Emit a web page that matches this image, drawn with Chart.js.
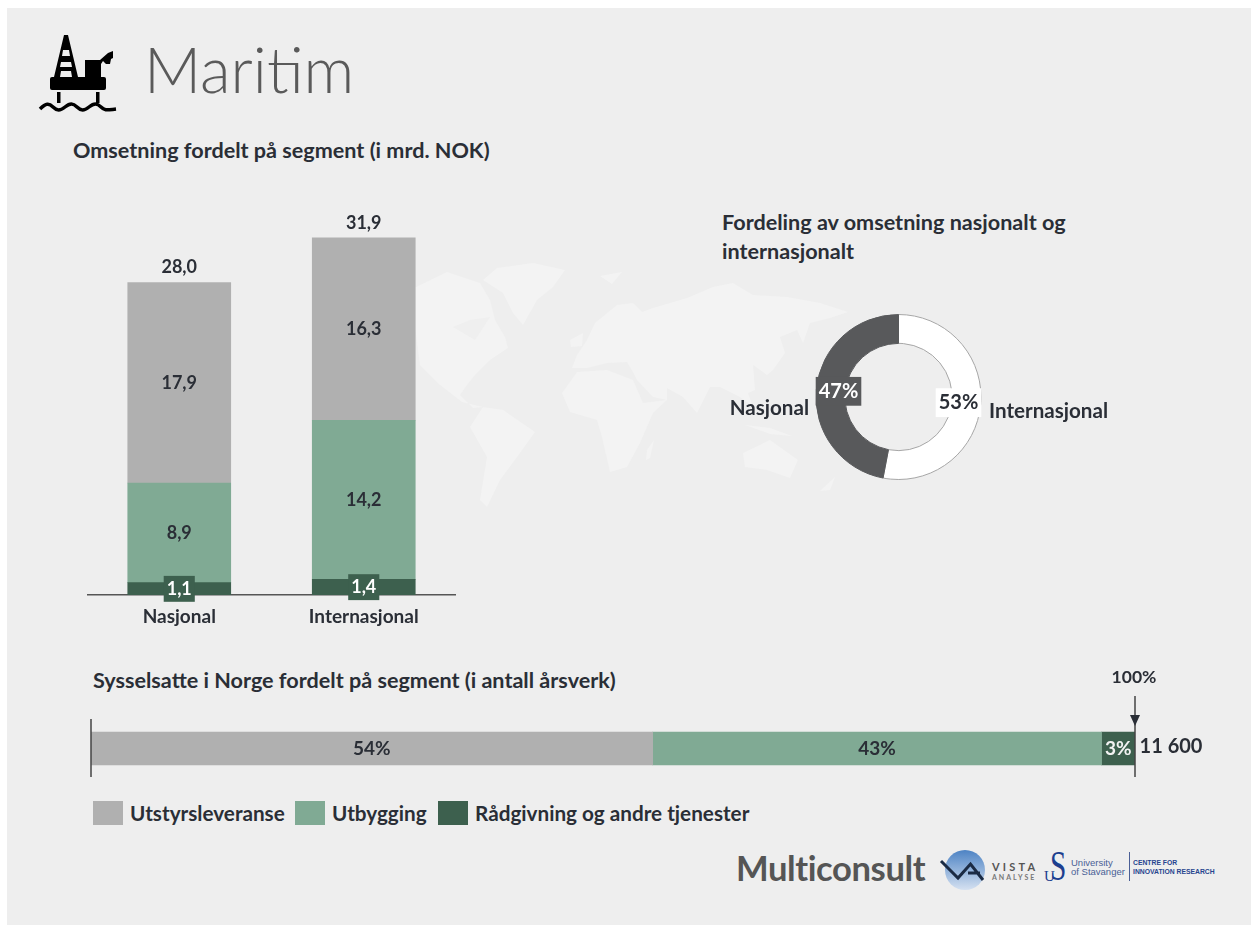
<!DOCTYPE html>
<html lang="no">
<head>
<meta charset="utf-8">
<title>Maritim</title>
<script src="https://cdn.jsdelivr.net/npm/chart.js@4"></script>
<style>
  html, body { margin: 0; padding: 0; background: #fff; }
  body { width: 1251px; height: 927px; position: relative; overflow: hidden; font-family: Lato, sans-serif; color: #2a2e36; }
  #panel { position: absolute; left: 7px; top: 8px; width: 1244px; height: 917px; background: #eeeeee; }
  .abs { position: absolute; white-space: nowrap; }
  .head { font-weight: 700; font-size: 21.6px; line-height: 28px; }
  canvas { position: absolute; }
  #legend { position: absolute; left: 93px; top: 801px; height: 25px; font-weight: 700; font-size: 20.7px; }
  #legend span { position: absolute; top: 0; line-height: 25px; white-space: nowrap; }
  #legend i { position: absolute; top: 0; width: 30px; height: 24px; }
</style>
</head>
<body>
<div id="panel"></div>

<!-- faint world map behind the charts -->
<svg class="abs" style="left:0;top:0" width="1251" height="927" fill="#f3f3f3">
  <polygon points="410,290 447,272 480,283 490,300 495,320 505,337 508,348 490,360 475,375 467,385 460,395 473,408 483,407 462,402 440,385 420,365"/>
  <polygon points="453,327 470,320 490,317 475,340" fill="#efefef"/>
  <polygon points="483,280 497,268 533,263 565,270 553,287 537,300 523,325 513,313 503,293"/>
  <polygon points="470,427 483,407 503,410 535,432 517,457 500,480 487,507 480,500 487,457"/>
  <polygon points="562,393 577,372 607,370 633,380 643,403 667,400 653,413 640,443 627,467 610,472 602,437 597,420 570,412"/>
  <polygon points="572,368 577,355 587,340 595,323 617,305 633,303 642,312 653,308 687,298 713,287 733,283 753,295 787,297 820,303 848,312 830,318 810,323 803,343 797,330 780,337 785,353 773,370 767,375 753,365 755,390 748,393 753,407 740,397 720,387 710,387 697,413 683,397 667,388 667,400 653,397 637,380 633,372 627,362 607,363 587,368"/>
  <polygon points="743,453 770,440 798,460 790,478 767,470 745,467"/>
  <polygon points="647,450 654,440 650,458 646,460"/>
  <polygon points="570,340 583,333 582,346 571,347"/>
  <polygon points="745,425 770,428 792,436 770,434"/>
  <polygon points="820,491 835,477 830,490"/>
  <polygon points="600,276 622,272 612,284"/>
</svg>

<!-- platform icon -->
<svg class="abs" style="left:0;top:0" width="130" height="120">
  <path d="M64 35h4l10 42h-6l-1-6h-10l-1 6h-6zM63 50l-1 6h8l-1-6zM61 62l-1 5h12l-1-5z" fill-rule="evenodd" fill="#000"/>
  <rect x="50" y="77" width="56" height="13" rx="2" fill="#000"/>
  <path d="M85 60h15l8-7 5-2v7l-2 1-1 5h-4l-3-3-2 3v13h-16z" fill="#000"/>
  <rect x="57" y="92" width="3.5" height="11" fill="#000"/>
  <rect x="96" y="92" width="3.5" height="11" fill="#000"/>
  <path d="M40 109c6-6 9-6 13-2s7 4 12 0 8-4 12 0 7 4 12 0 8-4 12 0 6 3 15 2" fill="none" stroke="#000" stroke-width="3.5"/>
</svg>

<div class="abs" style="left:144px;top:32px;font-size:63px;line-height:74px;font-weight:300;color:#5a5a5a">Maritim</div>
<div class="abs head" style="left:73px;top:136px">Omsetning fordelt på segment (i mrd. NOK)</div>
<div class="abs head" style="left:722px;top:208px">Fordeling av omsetning nasjonalt og</div>
<div class="abs head" style="left:722px;top:237px">internasjonalt</div>
<div class="abs head" style="left:93px;top:666px">Sysselsatte i Norge fordelt på segment (i antall årsverk)</div>

<canvas id="barChart" width="369" height="435" style="left:87px;top:195px"></canvas>
<canvas id="doughnutChart" width="440" height="200" style="left:680px;top:297px"></canvas>
<canvas id="stripChart" width="1140" height="130" style="left:80px;top:660px"></canvas>

<div id="legend"></div>

<!-- partner logos -->
<div class="abs" style="left:736px;top:846px;font-size:34.6px;line-height:44px;font-weight:700;color:#555;letter-spacing:-.4px">Multiconsult</div>
<svg class="abs" style="left:930px;top:840px;overflow:visible" width="300" height="56">
  <defs><linearGradient id="vg" x1="0" y1="0" x2="0" y2="1"><stop offset="0" stop-color="#4d83c4"/><stop offset="1" stop-color="#d5e1f1"/></linearGradient></defs>
  <circle cx="35" cy="30" r="20" fill="url(#vg)"/>
  <path d="M11 21l17 17 12.500-14 12.500 16M38 33h12" fill="none" stroke="#1b2b44" stroke-width="3"/>
  <text x="62" y="31" font-family="Lato" font-size="11" font-weight="700" letter-spacing="3.200" fill="#555">VISTA</text>
  <text x="62" y="40" font-family="Lato" font-size="7" font-weight="700" letter-spacing="2" fill="#777">ANALYSE</text>
  <text transform="translate(120,40) scale(.7,1)" font-family="Liberation Serif" font-size="42" fill="#1d3f8f">S</text>
  <text x="114" y="41" font-family="Liberation Serif" font-size="15" fill="#1d3f8f">U</text>
  <text x="141" y="26" font-family="Liberation Sans" font-size="9.500" fill="#4a5f96">University</text>
  <text x="141" y="35" font-family="Liberation Sans" font-size="9.500" fill="#4a5f96">of Stavanger</text>
  <rect x="199" y="12" width="1" height="29" fill="#4a5f96"/>
  <text x="203" y="25" font-family="Liberation Sans" font-size="6.800" font-weight="700" fill="#27458f">CENTRE FOR</text>
  <text x="203" y="34" font-family="Liberation Sans" font-size="6.800" font-weight="700" fill="#27458f">INNOVATION RESEARCH</text>
</svg>

<script>
const categories = ['Nasjonal', 'Internasjonal'];
const segments = ['Utstyrsleveranse', 'Utbygging', 'Rådgivning og andre tjenester'];
const utstyrsleveranse = [17.9, 16.3];
const utbygging = [8.9, 14.2];
const raadgivning = [1.1, 1.4];
const totals = [28.0, 31.9];
const salesShares = [53, 47];
const salesLabels = ['Internasjonal', 'Nasjonal'];
const jobShares = [53.8, 43.0, 3.2];
const jobsTotal = '11 600';
const jobsTopLabel = '100%';

const GREY = '#b0b0b0';
const GREEN = '#80aa94';
const DARK_GREEN = '#3d604e';
const INK = '#2a2e36';
const FONT = 'Lato, sans-serif';

function comma(v) {
  return v.toFixed(1).replace('.', ',');
}

// text with an optional box behind it, used by all three charts
function putText(ctx, text, x, y, color, size, box) {
  ctx.save();
  ctx.font = '700 ' + size + 'px ' + FONT;
  ctx.textAlign = 'center';
  ctx.textBaseline = 'middle';
  if (box) {
    const w = ctx.measureText(text).width + 6;
    ctx.fillStyle = box;
    ctx.fillRect(x - w / 2, y - size * 0.72, w, size * 1.44);
  }
  ctx.fillStyle = color;
  ctx.fillText(text, x, y);
  ctx.restore();
}

const barLabels = {
  id: 'barLabels',
  afterDatasetsDraw(chart) {
    const ctx = chart.ctx;
    chart.data.datasets.forEach((ds, i) => {
      chart.getDatasetMeta(i).data.forEach((bar, j) => {
        const y = (bar.y + bar.base) / 2;
        if (i === 0) {
          putText(ctx, comma(ds.data[j]), bar.x, y, '#ffffff', 18, DARK_GREEN);
        } else {
          putText(ctx, comma(ds.data[j]), bar.x, y, INK, 18);
        }
      });
    });
    chart.getDatasetMeta(2).data.forEach((bar, j) => {
      putText(ctx, comma(totals[j]), bar.x, bar.y - 15, INK, 18);
    });
  }
};

new Chart(document.getElementById('barChart'), {
  type: 'bar',
  plugins: [barLabels],
  data: {
    labels: categories,
    datasets: [
      { label: segments[2], data: raadgivning, backgroundColor: DARK_GREEN },
      { label: segments[1], data: utbygging, backgroundColor: GREEN },
      { label: segments[0], data: utstyrsleveranse, backgroundColor: GREY }
    ]
  },
  options: {
    responsive: false,
    animation: false,
    barThickness: 103,
    layout: { padding: { top: 8 } },
    plugins: { legend: { display: false }, tooltip: { enabled: false } },
    scales: {
      x: {
        stacked: true,
        afterFit(scale) { scale.height = 35; },
        grid: { display: false },
        border: { color: '#555555', width: 1.5 },
        ticks: { color: INK, font: { family: FONT, size: 19, weight: '700' }, padding: 2 }
      },
      y: { stacked: true, display: false, min: 0, max: 35 }
    }
  }
});

const doughnutLabels = {
  id: 'doughnutLabels',
  afterDatasetsDraw(chart) {
    const ctx = chart.ctx;
    chart.getDatasetMeta(0).data.forEach((arc, i) => {
      const mid = (arc.startAngle + arc.endAngle) / 2;
      const r = arc.innerRadius + (arc.outerRadius - arc.innerRadius) * 0.23;
      const x = arc.x + Math.cos(mid) * r;
      const y = arc.y + Math.sin(mid) * r;
      const dark = i === 1;
      putText(ctx, salesShares[i] + '%', x, y, dark ? '#ffffff' : INK, 20, dark ? '#58595b' : '#ffffff');
    });
    const c = chart.getDatasetMeta(0).data[0];
    ctx.save();
    ctx.font = '700 20.6px ' + FONT;
    ctx.fillStyle = INK;
    ctx.textBaseline = 'middle';
    ctx.textAlign = 'left';
    ctx.fillText(salesLabels[0], c.x + c.outerRadius + 8, c.y + 14);
    ctx.textAlign = 'right';
    ctx.fillText(salesLabels[1], c.x - c.outerRadius - 7, c.y + 11);
    ctx.restore();
  }
};

new Chart(document.getElementById('doughnutChart'), {
  type: 'doughnut',
  plugins: [doughnutLabels],
  data: {
    labels: salesLabels,
    datasets: [{
      data: salesShares,
      backgroundColor: ['#ffffff', '#58595b'],
      borderColor: ['#a6a6a6', '#58595b'],
      borderWidth: 1
    }]
  },
  options: {
    responsive: false,
    animation: false,
    cutout: '65%',
    layout: { padding: { top: 17, bottom: 17, right: 3 } },
    plugins: { legend: { display: false }, tooltip: { enabled: false } }
  }
});

const stripMarks = {
  id: 'stripMarks',
  afterDatasetsDraw(chart) {
    const ctx = chart.ctx;
    const xs = chart.scales.x;
    chart.data.datasets.forEach((ds, i) => {
      chart.getDatasetMeta(i).data.forEach((bar) => {
        const mid = (bar.x + bar.base) / 2;
        const text = Math.round(ds.data[0]) + '%';
        if (i === 2) {
          putText(ctx, text, mid, bar.y, '#f2f2f2', 19);
        } else {
          putText(ctx, text, mid, bar.y, INK, 19);
        }
      });
    });
    const left = xs.getPixelForValue(0);
    const right = xs.getPixelForValue(100);
    ctx.save();
    ctx.strokeStyle = '#444444';
    ctx.lineWidth = 1.5;
    ctx.beginPath();
    ctx.moveTo(left, 59);
    ctx.lineTo(left, 117);
    ctx.moveTo(right, 36);
    ctx.lineTo(right, 117);
    ctx.stroke();
    ctx.fillStyle = INK;
    ctx.beginPath();
    ctx.moveTo(right - 5, 55);
    ctx.lineTo(right + 5, 55);
    ctx.lineTo(right, 66);
    ctx.closePath();
    ctx.fill();
    ctx.restore();
    putText(ctx, jobsTopLabel, right - 1, 17, INK, 17.5);
    putText(ctx, jobsTotal, right + 36, 87, INK, 20);
  }
};

new Chart(document.getElementById('stripChart'), {
  type: 'bar',
  plugins: [stripMarks],
  data: {
    labels: ['Sysselsatte'],
    datasets: [
      { label: segments[0], data: [jobShares[0]], backgroundColor: GREY },
      { label: segments[1], data: [jobShares[1]], backgroundColor: GREEN },
      { label: segments[2], data: [jobShares[2]], backgroundColor: DARK_GREEN }
    ]
  },
  options: {
    indexAxis: 'y',
    responsive: false,
    animation: false,
    barThickness: 33,
    layout: { padding: { left: 11, right: 85, top: 47 } },
    plugins: { legend: { display: false }, tooltip: { enabled: false } },
    scales: {
      x: { stacked: true, display: false, min: 0, max: 100 },
      y: { stacked: true, display: false }
    }
  }
});

// legend row under the strip
const legendColors = [GREY, GREEN, DARK_GREEN];
const legendSwatchX = [0, 202, 345];
const legendTextX = [37, 239, 382];
const legend = document.getElementById('legend');
segments.forEach((name, i) => {
  const sw = document.createElement('i');
  sw.style.left = legendSwatchX[i] + 'px';
  sw.style.background = legendColors[i];
  const label = document.createElement('span');
  label.style.left = legendTextX[i] + 'px';
  label.textContent = name;
  legend.append(sw, label);
});
</script>
</body>
</html>
